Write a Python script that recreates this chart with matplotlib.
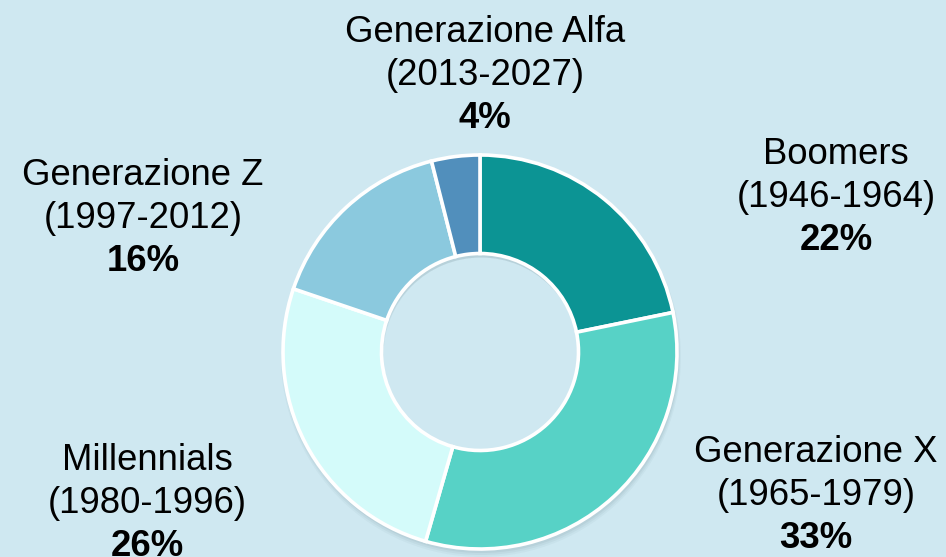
import matplotlib
matplotlib.use("Agg")
import matplotlib.pyplot as plt
from matplotlib.patches import Wedge

categories = ["Boomers", "Generazione X", "Millennials", "Generazione Z", "Generazione Alfa"]
years = ["(1946-1964)", "(1965-1979)", "(1980-1996)", "(1997-2012)", "(2013-2027)"]
shares = [22, 33, 26, 16, 4]
colors = ["#0c9494", "#57d2c6", "#d4fbfa", "#8bc9de", "#518fbc"]

# label anchor (center x, first-line baseline y) in pixel-like coords (top-left origin)
label_pos = [(836, 164), (816, 462), (147, 470), (143, 185), (485, 42)]

W, H = 946, 557
bg = "#cfe8f1"
fig = plt.figure(figsize=(W / 100, H / 100), dpi=100, facecolor=bg)
ax = fig.add_axes([0, 0, 1, 1])
ax.set_facecolor(bg)

cx, cy, R = 480, H - 352, 197

# soft shadow under the ring
for k, a in enumerate([0.06, 0.05, 0.04]):
    ax.add_patch(Wedge((cx + 1, cy - 3 - k), R + 1 + k, 0, 360, width=R * 0.5 + 2,
                       facecolor="#30505a", edgecolor="none", alpha=a, zorder=0))

ax.pie(shares, colors=colors, startangle=90, counterclock=False,
       radius=R, center=(cx, cy), frame=True,
       wedgeprops=dict(width=R * 0.5, edgecolor="white", linewidth=2.6, zorder=2))
ax.set_xlim(0, W)
ax.set_ylim(0, H)
ax.set_aspect("equal")
ax.axis("off")

font = ["Liberation Sans", "DejaVu Sans"]
fs = 26.3
step = 43
for cat, yr, s, (x, y) in zip(categories, years, shares, label_pos):
    ax.text(x, H - y, cat, ha="center", va="baseline", fontsize=fs, family=font, color="black")
    ax.text(x, H - y - step, yr, ha="center", va="baseline", fontsize=fs, family=font, color="black")
    ax.text(x, H - y - 2 * step, f"{s}%", ha="center", va="baseline", fontsize=fs,
            family=font, fontweight="bold", color="black")

fig.savefig("out.png", dpi=100, facecolor=bg)
